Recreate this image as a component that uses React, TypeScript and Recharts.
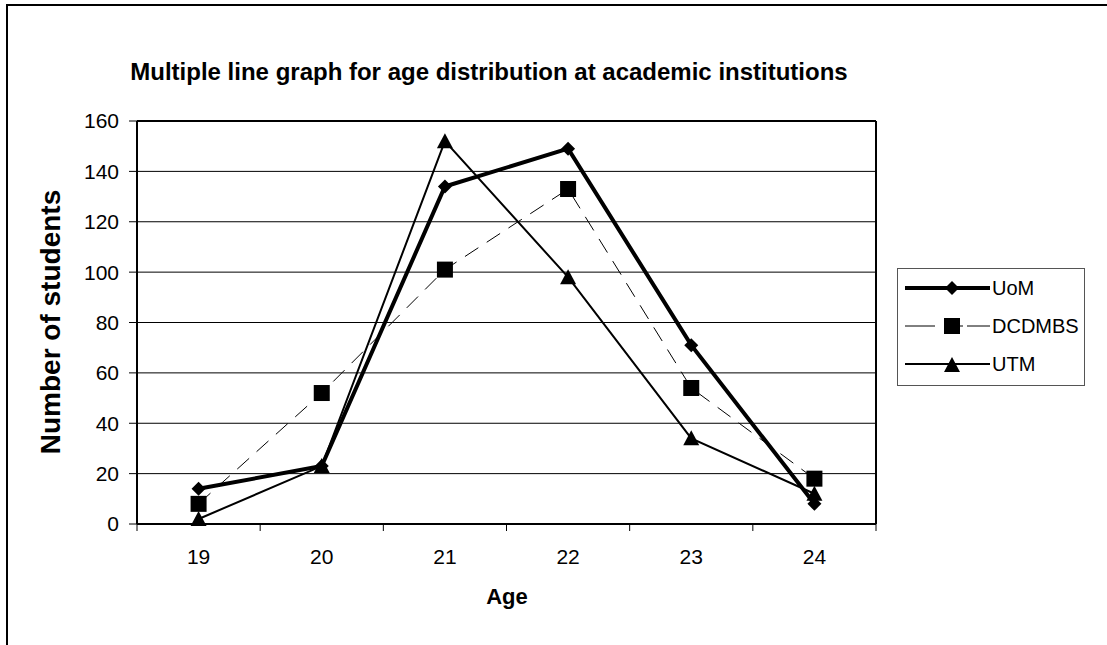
import React from "react";
import {
  LineChart,
  Line,
  XAxis,
  YAxis,
  CartesianGrid,
  ReferenceLine,
} from "recharts";

const ages = [19, 20, 21, 22, 23, 24];
const uom = [14, 23, 134, 149, 71, 8];
const dcdmbs = [8, 52, 101, 133, 54, 18];
const utm = [2, 23, 152, 98, 34, 12];
const xTicks = [18.5, 19, 19.5, 20, 20.5, 21, 21.5, 22, 22.5, 23, 23.5, 24, 24.5];
const yTicks = [0, 20, 40, 60, 80, 100, 120, 140, 160];

const data = ages.map((age, i) => ({
  age,
  UoM: uom[i],
  DCDMBS: dcdmbs[i],
  UTM: utm[i],
}));

const FONT = '"Liberation Sans", Arial, sans-serif';

const Diamond = (props: any) => {
  const { cx, cy } = props;
  if (cx == null || cy == null) return null;
  const r = 7;
  return (
    <polygon
      points={`${cx},${cy - r} ${cx + r},${cy} ${cx},${cy + r} ${cx - r},${cy}`}
      fill="#000"
    />
  );
};

const Square = (props: any) => {
  const { cx, cy } = props;
  if (cx == null || cy == null) return null;
  return <rect x={cx - 8} y={cy - 8} width={16} height={16} fill="#000" />;
};

const Triangle = (props: any) => {
  const { cx, cy } = props;
  if (cx == null || cy == null) return null;
  return (
    <polygon
      points={`${cx},${cy - 8} ${cx + 8},${cy + 7} ${cx - 8},${cy + 7}`}
      fill="#000"
    />
  );
};

// Excel style: labels on categories, tick marks between them
const AgeTick = (props: any) => {
  const { x, y, payload } = props;
  const v = payload.value;
  if (Number.isInteger(v)) {
    return (
      <text x={x} y={y + 40} textAnchor="middle" fontSize={21} fontFamily={FONT} fill="#000">
        {v}
      </text>
    );
  }
  return <line x1={x} y1={y} x2={x} y2={y + 7} stroke="#000" strokeWidth={1} />;
};

const legendRows = [
  { name: "UoM", width: 4, dash: undefined as string | undefined, marker: "diamond" },
  { name: "DCDMBS", width: 1, dash: "30 14 14 4", marker: "square" },
  { name: "UTM", width: 2, dash: undefined as string | undefined, marker: "triangle" },
];

const LegendBox = () => (
  <div
    style={{
      position: "absolute",
      left: 897,
      top: 268,
      border: "1px solid #555",
      background: "#fff",
      width: 188,
      height: 118,
      boxSizing: "border-box",
    }}
  >
    {legendRows.map((r) => (
      <div key={r.name} style={{ display: "flex", alignItems: "center", height: 38 }}>
        <svg width={90} height={20} style={{ marginLeft: 4, flex: "none" }}>
          <line
            x1={3}
            y1={10}
            x2={88}
            y2={10}
            stroke="#000"
            strokeWidth={r.width}
            strokeDasharray={r.dash}
          />
          {r.marker === "diamond" && <Diamond cx={50} cy={10} />}
          {r.marker === "square" && <Square cx={50} cy={10} />}
          {r.marker === "triangle" && <Triangle cx={50} cy={11} />}
        </svg>
        <span style={{ fontFamily: FONT, fontSize: 20, color: "#000" }}>{r.name}</span>
      </div>
    ))}
  </div>
);

export default function App() {
  return (
    <div
      style={{
        position: "absolute",
        left: 0,
        top: 0,
        width: 1107,
        height: 645,
        overflow: "hidden",
        background: "#fff",
      }}
    >
      <div
        style={{
          position: "absolute",
          left: 6,
          top: 4,
          width: 1200,
          height: 800,
          borderTop: "2px solid #000",
          borderLeft: "2px solid #000",
        }}
      />
      <div
        style={{
          position: "absolute",
          left: 489,
          top: 72,
          transform: "translate(-50%, -50%)",
          whiteSpace: "nowrap",
          fontFamily: FONT,
          fontWeight: "bold",
          fontSize: 24,
        }}
      >
        Multiple line graph for age distribution at academic institutions
      </div>
      <div
        style={{
          position: "absolute",
          left: 51,
          top: 322,
          transform: "translate(-50%, -50%) rotate(-90deg)",
          whiteSpace: "nowrap",
          fontFamily: FONT,
          fontWeight: "bold",
          fontSize: 28,
        }}
      >
        Number of students
      </div>
      <div
        style={{
          position: "absolute",
          left: 507,
          top: 597,
          transform: "translate(-50%, -50%)",
          fontFamily: FONT,
          fontWeight: "bold",
          fontSize: 22,
        }}
      >
        Age
      </div>
      <div style={{ position: "absolute", left: 0, top: 0 }}>
        <LineChart
          width={1107}
          height={645}
          data={data}
          margin={{ top: 121, right: 231, left: 77, bottom: 91 }}
        >
          <CartesianGrid vertical={false} stroke="#000" strokeWidth={1} />
          <XAxis
            dataKey="age"
            type="number"
            domain={[18.5, 24.5]}
            ticks={xTicks}
            interval={0}
            height={30}
            tickSize={0}
            tickMargin={0}
            tickLine={false}
            tick={<AgeTick />}
            axisLine={{ stroke: "#000", strokeWidth: 2 }}
          />
          <YAxis
            domain={[0, 160]}
            ticks={yTicks}
            interval={0}
            width={60}
            tickSize={8}
            tickMargin={10}
            tickLine={{ stroke: "#000" }}
            axisLine={{ stroke: "#000", strokeWidth: 2 }}
            tick={{ fill: "#000", fontSize: 21, fontFamily: FONT }}
          />
          <ReferenceLine y={160} stroke="#000" strokeWidth={2} />
          <ReferenceLine x={24.5} stroke="#000" strokeWidth={2} />
          <Line
            dataKey="DCDMBS"
            stroke="#000"
            strokeWidth={1}
            strokeDasharray="16 10"
            dot={<Square />}
            activeDot={false}
            isAnimationActive={false}
          />
          <Line
            dataKey="UTM"
            stroke="#000"
            strokeWidth={2}
            dot={<Triangle />}
            activeDot={false}
            isAnimationActive={false}
          />
          <Line
            dataKey="UoM"
            stroke="#000"
            strokeWidth={4}
            dot={<Diamond />}
            activeDot={false}
            isAnimationActive={false}
          />
        </LineChart>
      </div>
      <LegendBox />
    </div>
  );
}
